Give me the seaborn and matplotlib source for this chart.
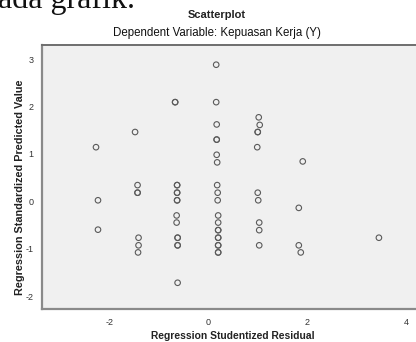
"""
SPSS-style residual scatterplot: studentized residual vs standardized predicted value.
"""

import matplotlib
matplotlib.use('Agg')
import matplotlib.pyplot as plt
import seaborn as sns
import pandas as pd

# Values (overlapping points listed twice)
residual = [
    -2.27, -2.23, -2.23,
    -1.48, -1.43, -1.43, -1.43, -1.41, -1.41, -1.42,
    -0.67, -0.67, -0.63, -0.63, -0.63, -0.63, -0.63, -0.63, -0.64, -0.64,
    -0.62, -0.62, -0.62, -0.62, -0.62,
    0.16, 0.16, 0.17, 0.17, 0.17, 0.17, 0.18, 0.18, 0.19, 0.19, 0.20, 0.20,
    0.20, 0.20, 0.20, 0.20, 0.20, 0.20, 0.20, 0.20,
    1.02, 1.04, 1.00, 1.00, 0.99, 1.00, 1.01, 1.03, 1.03, 1.03,
    1.91, 1.83, 1.83, 1.87,
    3.45,
]
predicted = [
    1.14, 0.02, -0.60,
    1.46, 0.34, 0.18, 0.18, -0.77, -0.93, -1.08,
    2.09, 2.09, 0.34, 0.34, 0.18, 0.18, 0.02, 0.02, -0.30, -0.45,
    -0.77, -0.77, -0.93, -0.93, -1.72,
    2.88, 2.09, 1.62, 1.30, 1.30, 0.98, 0.82, 0.34, 0.18, 0.02, -0.30, -0.45,
    -0.61, -0.61, -0.77, -0.77, -0.93, -0.93, -1.08, -1.08,
    1.77, 1.61, 1.46, 1.46, 1.14, 0.18, 0.02, -0.45, -0.61, -0.93,
    0.84, -0.14, -0.93, -1.08,
    -0.77,
]
x_ticks = [-2, 0, 2, 4]
y_ticks = [-2, -1, 0, 1, 2, 3]

df = pd.DataFrame({"resid": residual, "pred": predicted})

sns.set_style("white")
plt.rcParams['font.family'] = ['Liberation Sans', 'DejaVu Sans']

fig = plt.figure(figsize=(4.16, 3.42), dpi=100)
ax = fig.add_axes([0.100, 0.0956, 0.900, 0.7734])
ax.set_facecolor("#f0f0f0")

sns.scatterplot(data=df, x="resid", y="pred", ax=ax, marker="o",
                facecolor="none", edgecolor="#5a5a5a", s=16, linewidth=0.8)

ax.set_xlim(-3.37, 4.20)
ax.set_ylim(-2.28, 3.30)
ax.set_xticks(x_ticks)
ax.set_yticks(y_ticks)
ax.set_xticklabels([str(t) for t in x_ticks])
ax.set_yticklabels([str(t) for t in y_ticks])
ax.tick_params(axis="both", direction="out", length=4, width=0.8, color="#444444",
               labelsize=6.5, labelcolor="#333333", pad=2)
ax.set_xlabel("")
ax.set_ylabel("")

# Borders: heavy grey on left/bottom, dark line on top, none on right
for side in ["left", "bottom"]:
    ax.spines[side].set_color("#8a8a8a")
    ax.spines[side].set_linewidth(1.6)
ax.spines["top"].set_color("#6e6e6e")
ax.spines["top"].set_linewidth(1.4)
ax.spines["right"].set_visible(False)

# Titles and axis labels
fig.text(217 / 416, 1 - 15 / 342, "Scatterplot", ha="center", va="center",
         fontsize=8, fontweight="bold", color="#222222")
fig.text(217 / 416, 1 - 33 / 342, "Dependent Variable: Kepuasan Kerja (Y)",
         ha="center", va="center", fontsize=8.3, color="#111111")
fig.text(233 / 416, 1 - 336 / 342, "Regression Studentized Residual",
         ha="center", va="center", fontsize=7.4, fontweight="bold", color="#222222")
fig.text(20 / 416, 1 - 187 / 342, "Regression Standardized Predicted Value",
         ha="center", va="center", rotation=90, fontsize=7.8, fontweight="bold",
         color="#222222")

# Cropped document text above the chart
fig.text(135 / 416, 1 - 8 / 342, "pada grafik.", ha="right", va="baseline",
         fontsize=23, family=["Liberation Serif", "DejaVu Serif"], color="#111111")

fig.savefig("out.png", dpi=100)
